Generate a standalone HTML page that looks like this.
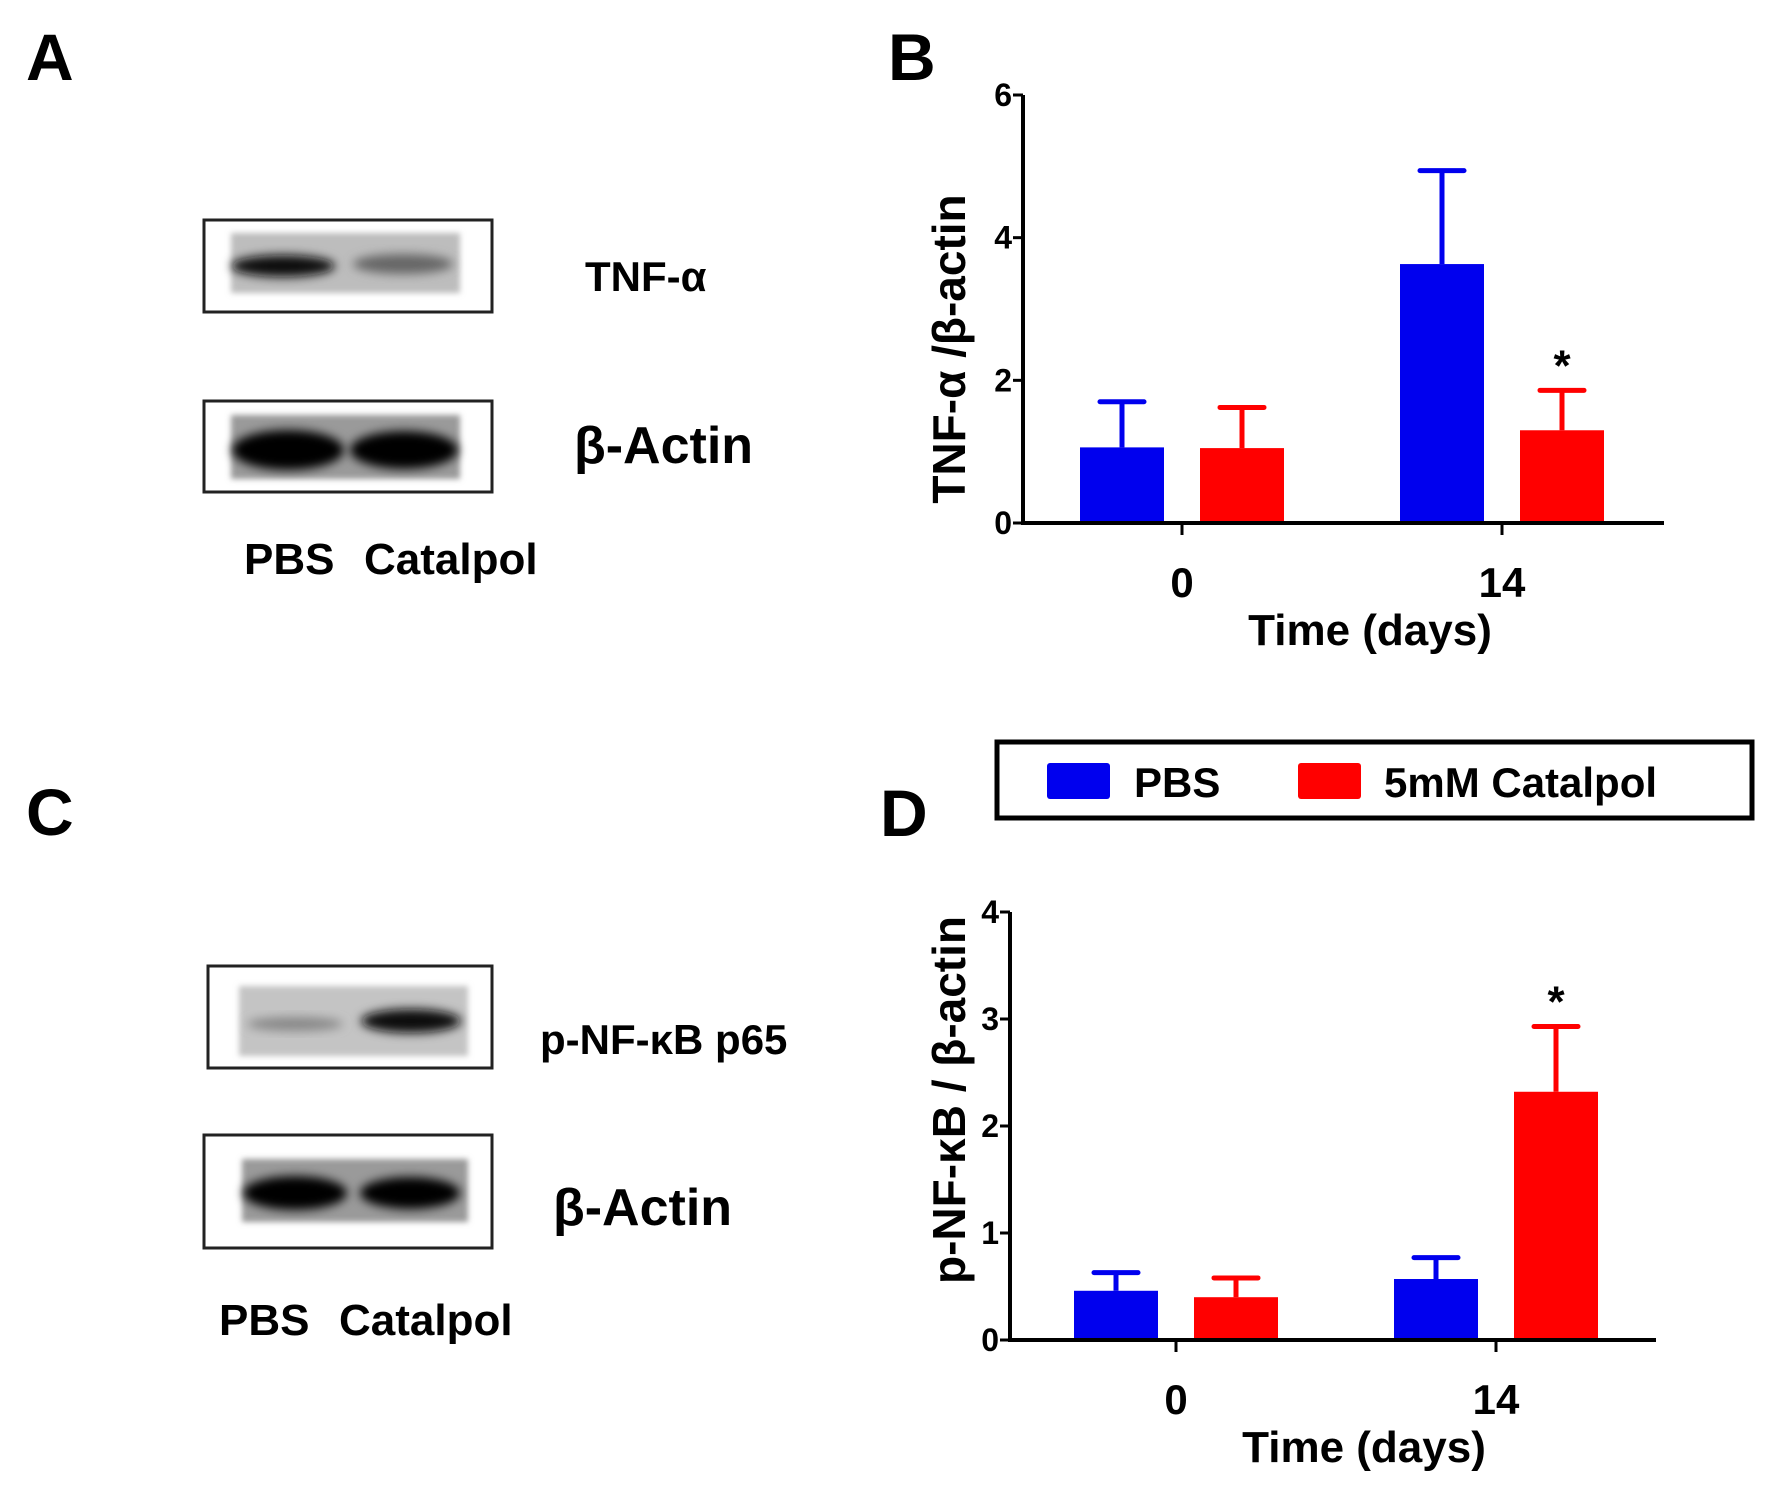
<!DOCTYPE html>
<html><head><meta charset="utf-8">
<style>
html,body{margin:0;padding:0;background:#fff;}
svg{display:block;font-family:"Liberation Sans",Arial,sans-serif;font-weight:bold;}
</style></head>
<body>
<svg id="fig" width="1772" height="1506" viewBox="0 0 1772 1506" xmlns="http://www.w3.org/2000/svg">
<defs>
<filter id="blur" x="-20%" y="-50%" width="140%" height="200%"><feGaussianBlur stdDeviation="5"/></filter>
<filter id="blur2" x="-20%" y="-50%" width="140%" height="200%"><feGaussianBlur stdDeviation="3"/></filter>
</defs>

<!-- Panel A -->
<text x="26" y="80" font-size="66">A</text>
<g>
<rect x="204" y="220" width="288" height="92" fill="#fff" stroke="#222" stroke-width="3"/>
<rect x="231" y="233" width="229" height="60" fill="#bdbdbd" filter="url(#blur2)"/>
<ellipse cx="283" cy="266" rx="52" ry="11" fill="#111" filter="url(#blur)"/>
<ellipse cx="403" cy="264" rx="50" ry="10" fill="#666" filter="url(#blur)"/>
</g>
<text x="585" y="291" font-size="42">TNF-α</text>
<g>
<rect x="204" y="401" width="288" height="91" fill="#fff" stroke="#222" stroke-width="3"/>
<rect x="231" y="415" width="229" height="64" fill="#9a9a9a" filter="url(#blur2)"/>
<ellipse cx="288" cy="450" rx="56" ry="20" fill="#000" filter="url(#blur)"/>
<ellipse cx="404" cy="450" rx="54" ry="19" fill="#000" filter="url(#blur)"/>
</g>
<text x="574" y="463" font-size="52">β-Actin</text>
<text x="244" y="574" font-size="44">PBS</text>
<text x="364" y="574" font-size="44">Catalpol</text>

<!-- Panel C -->
<text x="26" y="835" font-size="66">C</text>
<g>
<rect x="208" y="966" width="284" height="102" fill="#fff" stroke="#222" stroke-width="3"/>
<rect x="239" y="986" width="229" height="70" fill="#c4c4c4" filter="url(#blur2)"/>
<ellipse cx="295" cy="1024" rx="48" ry="7" fill="#888" filter="url(#blur)"/>
<ellipse cx="411" cy="1021" rx="50" ry="12" fill="#111" filter="url(#blur)"/>
</g>
<text x="540" y="1054" font-size="42">p-NF-κB  p65</text>
<g>
<rect x="204" y="1135" width="288" height="113" fill="#fff" stroke="#222" stroke-width="3"/>
<rect x="242" y="1159" width="226" height="63" fill="#9a9a9a" filter="url(#blur2)"/>
<ellipse cx="295" cy="1193" rx="52" ry="17" fill="#000" filter="url(#blur)"/>
<ellipse cx="410" cy="1193" rx="50" ry="16" fill="#000" filter="url(#blur)"/>
</g>
<text x="553" y="1225" font-size="52">β-Actin</text>
<text x="219" y="1335" font-size="44">PBS</text>
<text x="339" y="1335" font-size="44">Catalpol</text>

<!-- Panel labels B/D -->
<text x="888" y="80" font-size="66">B</text>
<text x="880" y="836" font-size="66">D</text>

<!-- Legend -->
<g>
<rect x="997" y="742" width="755" height="76" fill="#fff" stroke="#000" stroke-width="5"/>
<g>
<rect x="1047" y="763" width="63" height="36" rx="3" fill="#0000ee"/>
<text x="1134" y="797" font-size="42">PBS</text>
</g>
<g>
<rect x="1298" y="763" width="63" height="36" rx="3" fill="#ff0000"/>
<text x="1384" y="797" font-size="42">5mM Catalpol</text>
</g>
</g>

<g id="chartB"></g>
<g id="chartD"></g>
</svg>

<script>
const categories = ["0", "14"];
const bPbs = [1.06, 3.63];
const bPbsErr = [0.64, 1.31];
const bCat = [1.05, 1.30];
const bCatErr = [0.57, 0.56];
const bTicks = [0, 2, 4, 6];
const bSig = [false, true];
const dPbs = [0.46, 0.57];
const dPbsErr = [0.17, 0.20];
const dCat = [0.40, 2.32];
const dCatErr = [0.18, 0.61];
const dTicks = [0, 1, 2, 3, 4];
const dSig = [false, true];

const NS = "http://www.w3.org/2000/svg";
function mk(parent, tag, attrs, txt) {
  const e = document.createElementNS(NS, tag);
  for (const k in attrs) e.setAttribute(k, attrs[k]);
  if (txt !== undefined) e.textContent = txt;
  parent.appendChild(e);
  return e;
}

function drawChart(g, cfg) {
  const yScale = v => cfg.y0 - (v - cfg.yMin) / (cfg.yMax - cfg.yMin) * (cfg.y0 - cfg.yTop);
  const xCenter = i => cfg.xTick0 + i * (cfg.xTick1 - cfg.xTick0);
  const bw = 84, off = 60;
  const ya = mk(g, "line", {x1: cfg.xAxis, y1: cfg.yTop, x2: cfg.xAxis, y2: cfg.y0 + 2, stroke: "#000", "stroke-width": 4});
  
  
  cfg.ticks.forEach(t => {
    const y = yScale(t);
    const tl = mk(g, "line", {x1: cfg.xAxis - 10, y1: y, x2: cfg.xAxis, y2: y, stroke: "#000", "stroke-width": 3});
    
    
    const tt = mk(g, "text", {x: cfg.xAxis - 11, y: y + 11, "font-size": 32, "text-anchor": "end"}, String(t));
    
    
  });
  const xa = mk(g, "line", {x1: cfg.xAxis - 2, y1: cfg.y0, x2: cfg.xEnd, y2: cfg.y0, stroke: "#000", "stroke-width": 4});
  
  
  const series = [
    {vals: cfg.pbs, errs: cfg.pbsErr, color: "#0000ee", dx: -off, name: "pbs"},
    {vals: cfg.cat, errs: cfg.catErr, color: "#ff0000", dx: off, name: "catalpol"}
  ];
  categories.forEach((c, i) => {
    const cx = xCenter(i);
    const tk = mk(g, "line", {x1: cx, y1: cfg.y0, x2: cx, y2: cfg.y0 + 12, stroke: "#000", "stroke-width": 3});
    
    
    const lb = mk(g, "text", {x: cx, y: cfg.y0 + 74, "font-size": 42, "text-anchor": "middle"}, c);
    
    
    series.forEach(s => {
      const bx = cx + s.dx;
      const top = yScale(s.vals[i]);
      const et = yScale(s.vals[i] + s.errs[i]);
      const eb = mk(g, "line", {x1: bx, y1: top, x2: bx, y2: et, stroke: s.color, "stroke-width": 5});
      
      
      const cap = mk(g, "line", {x1: bx - 22, y1: et, x2: bx + 22, y2: et, stroke: s.color, "stroke-width": 5, "stroke-linecap": "round"});
      
      
      const r = mk(g, "rect", {x: bx - bw / 2, y: top, width: bw, height: cfg.y0 - top - 2, fill: s.color});
      
      
      if (s.name === "catalpol" && cfg.sig[i]) {
        const st = mk(g, "text", {x: bx, y: et - 10, "font-size": 44, "text-anchor": "middle"}, "*");
        
        
      }
    });
  });
  const xt = mk(g, "text", {x: (cfg.xTick0 + cfg.xTick1) / 2 + 28, y: cfg.y0 + 122, "font-size": 44, "text-anchor": "middle"}, "Time (days)");
  
  
  const yt = mk(g, "text", {x: 0, y: 0, "font-size": 46, "text-anchor": "middle", transform: "translate(" + cfg.yTitleX + "," + cfg.yTitleY + ") rotate(-90)"}, cfg.yTitle);
  
  
}

drawChart(document.getElementById("chartB"), {
  xAxis: 1023, xEnd: 1664, y0: 523, yTop: 95, yMin: 0, yMax: 6,
  xTick0: 1182, xTick1: 1502, pbs: bPbs, pbsErr: bPbsErr, cat: bCat, catErr: bCatErr,
  ticks: bTicks, sig: bSig, yTitle: "TNF-α /β-actin", yTitleX: 965, yTitleY: 349
});
drawChart(document.getElementById("chartD"), {
  xAxis: 1010, xEnd: 1656, y0: 1340, yTop: 912, yMin: 0, yMax: 4,
  xTick0: 1176, xTick1: 1496, pbs: dPbs, pbsErr: dPbsErr, cat: dCat, catErr: dCatErr,
  ticks: dTicks, sig: dSig, yTitle: "p-NF-κB / β-actin", yTitleX: 965, yTitleY: 1100
});
</script>
</body></html>
